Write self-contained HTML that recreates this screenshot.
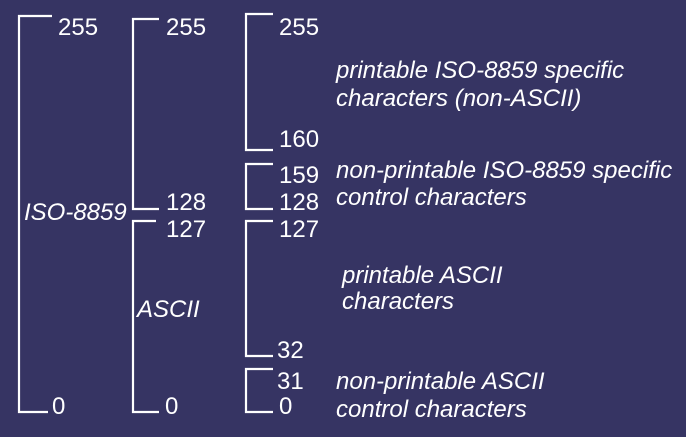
<!DOCTYPE html>
<html><head><style>
html,body{margin:0;padding:0;background:#363463;}
svg{display:block;}
text{font-family:"Liberation Sans",sans-serif;font-size:24px;fill:#fff;}
.i{font-style:italic;}
</style></head><body>
<svg width="686" height="437" viewBox="0 0 686 437">
<rect width="686" height="437" fill="#363463"/>
<g fill="none" stroke="#fff" stroke-width="2.2">
<polyline points="52,16 19,16 19,412 48,412"/>
<polyline points="159,19 133,19 133,209 159,209"/>
<polyline points="156,221 133,221 133,412 159,412"/>
<polyline points="273,14 246,14 246,150 273,150"/>
<polyline points="273,164 246,164 246,209 273,209"/>
<polyline points="273,221 246,221 246,356 273,356"/>
<polyline points="273,369 246,369 246,412 273,412"/>
</g>
<text x="58" y="35">255</text>
<text x="52" y="414">0</text>
<text x="24" y="220" class="i">ISO-8859</text>
<text x="166" y="35">255</text>
<text x="166" y="210">128</text>
<text x="166" y="237">127</text>
<text x="165" y="414">0</text>
<text x="137" y="317" class="i">ASCII</text>
<text x="279" y="35">255</text>
<text x="279" y="147">160</text>
<text x="279" y="183">159</text>
<text x="279" y="210">128</text>
<text x="279" y="237">127</text>
<text x="277" y="358">32</text>
<text x="277" y="389">31</text>
<text x="279" y="414">0</text>
<text x="336" y="78" class="i">printable ISO-8859 specific</text>
<text x="336" y="106" class="i">characters (non-ASCII)</text>
<text x="336" y="178" class="i">non-printable ISO-8859 specific</text>
<text x="336" y="205" class="i">control characters</text>
<text x="342" y="283" class="i">printable ASCII</text>
<text x="342" y="309" class="i">characters</text>
<text x="336" y="389" class="i">non-printable ASCII</text>
<text x="336" y="417" class="i">control characters</text>
</svg>
</body></html>
